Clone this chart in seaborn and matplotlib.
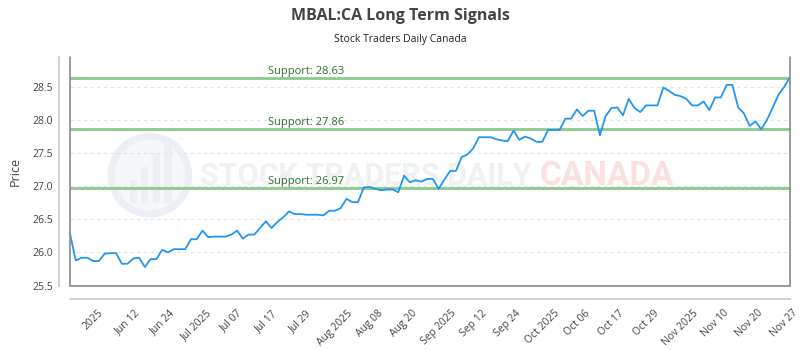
import numpy as np
import pandas as pd
import matplotlib
matplotlib.use("Agg")
import matplotlib.pyplot as plt
import seaborn as sns
from matplotlib.patches import Ellipse, Rectangle

# closing prices, one per trading session
prices = [
    26.28, 25.88, 25.92, 25.92, 25.87, 25.87, 25.98, 25.99, 25.99, 25.83,
    25.83, 25.91, 25.92, 25.78, 25.90, 25.90, 26.04, 26.00, 26.05, 26.05,
    26.05, 26.20, 26.20, 26.33, 26.23, 26.24, 26.24, 26.24, 26.27, 26.33,
    26.21, 26.27, 26.27, 26.37, 26.47, 26.37, 26.46, 26.53, 26.62, 26.58,
    26.58, 26.57, 26.57, 26.57, 26.56, 26.63, 26.63, 26.67, 26.81, 26.76,
    26.76, 26.98, 26.99, 26.96, 26.94, 26.95, 26.95, 26.91, 27.16, 27.06,
    27.09, 27.07, 27.11, 27.11, 26.96, 27.10, 27.23, 27.23, 27.44, 27.48,
    27.57, 27.74, 27.74, 27.74, 27.71, 27.69, 27.68, 27.84, 27.70, 27.75,
    27.72, 27.67, 27.67, 27.85, 27.85, 27.85, 28.02, 28.02, 28.16, 28.06,
    28.14, 28.14, 27.77, 28.06, 28.18, 28.19, 28.07, 28.32, 28.18, 28.12,
    28.22, 28.22, 28.22, 28.49, 28.44, 28.38, 28.36, 28.32, 28.22, 28.22,
    28.28, 28.15, 28.34, 28.34, 28.53, 28.53, 28.19, 28.10, 27.91, 27.98,
    27.86, 28.00, 28.19, 28.38, 28.50, 28.65,
]

tick_labels = [
    "2025", "Jun 12", "Jun 24", "Jul 2025", "Jul 07", "Jul 17", "Jul 29",
    "Aug 2025", "Aug 08", "Aug 20", "Sep 2025", "Sep 12", "Sep 24",
    "Oct 2025", "Oct 06", "Oct 17", "Oct 29", "Nov 2025", "Nov 10",
    "Nov 20", "Nov 27",
]

support_levels = [28.63, 27.86, 26.97]
y_ticks = [25.5, 26.0, 26.5, 27.0, 27.5, 28.0, 28.5]

df = pd.DataFrame({"idx": np.arange(len(prices)), "price": prices})

sns.set_theme(style="white")
plt.rcParams["font.family"] = ["Open Sans", "DejaVu Sans"]

fig = plt.figure(figsize=(8, 3.5), dpi=100)
ax = fig.add_axes([0.0875, 0.184, 0.9, 0.653])

# watermark (logo circle + text)
ax.add_patch(Ellipse((0.111, 0.483), 0.108, 0.34, transform=ax.transAxes,
                     facecolor="#f6f7f9", edgecolor="#eceff3", lw=5, zorder=0))
for i, h in enumerate([0.10, 0.16, 0.22, 0.28]):
    ax.add_patch(Rectangle((0.083 + i * 0.016, 0.36), 0.010, h, transform=ax.transAxes,
                           facecolor="#eceff3", edgecolor="none", zorder=0))
ax.text(0.181, 0.48, "STOCK TRADERS DAILY", transform=ax.transAxes,
        fontsize=22, fontweight="bold", color="#f0f1f3", va="center", ha="left",
        zorder=0, family=["Roboto", "DejaVu Sans"])
ax.text(0.652, 0.48, "CANADA", transform=ax.transAxes,
        fontsize=24, fontweight="bold", color="#fbe0e0", va="center", ha="left",
        zorder=0, family=["Roboto", "DejaVu Sans"])

ax.yaxis.grid(True, color="#e2e2e2", linestyle=(0, (3, 3)), lw=0.8)
ax.set_axisbelow(True)

for lvl in support_levels:
    ax.axhline(lvl, color="#8cc98c", lw=2, zorder=2)
    ax.annotate(f"Support: {lvl:.2f}", xy=(41, lvl), xytext=(0, 1),
                textcoords="offset points", ha="center", va="bottom",
                fontsize=8, color="#2f6f2f", zorder=3)

sns.lineplot(data=df, x="idx", y="price", ax=ax, color="#2196f3", lw=1.3, zorder=4)

ax.set_xlim(0, len(prices) - 1)
ax.set_ylim(25.5, 28.95)
ax.set_yticks(y_ticks)
ax.set_yticklabels([f"{v:.1f}" for v in y_ticks])
ax.set_xticks(np.arange(len(tick_labels)) * 6 + 4)
ax.set_xticklabels(tick_labels)
ax.tick_params(axis="both", length=0, labelsize=7.5, colors="#444444")
ax.tick_params(axis="x", pad=6, labelrotation=45)
ax.tick_params(axis="y", pad=4)
plt.setp(ax.get_xticklabels(), ha="right", rotation_mode="anchor")
ax.set_xlabel("")
ax.set_ylabel("Price", fontsize=9, color="#444444", labelpad=8)

# offset axis lines and plot frame
ax.spines["top"].set_visible(False)
ax.spines["right"].set_visible(False)
ax.spines["left"].set_position(("outward", 8))
ax.spines["bottom"].set_position(("outward", 10))
ax.spines["left"].set_color("#cccccc")
ax.spines["bottom"].set_color("#cccccc")
for xs, ys in [([0, 0], [0, 1]), ([0, 1], [0, 0]), ([1, 1], [0, 1])]:
    ax.plot(xs, ys, transform=ax.transAxes, color="#8a8a8a", lw=1.2,
            clip_on=False, zorder=5)

fig.text(0.5, 0.955, "MBAL:CA Long Term Signals", ha="center", va="center",
         fontsize=11.5, fontweight="bold", color="#444444")
fig.text(0.5, 0.886, "Stock Traders Daily Canada", ha="center", va="center",
         fontsize=7.5, color="#222222")

fig.savefig("out.png", dpi=100)
